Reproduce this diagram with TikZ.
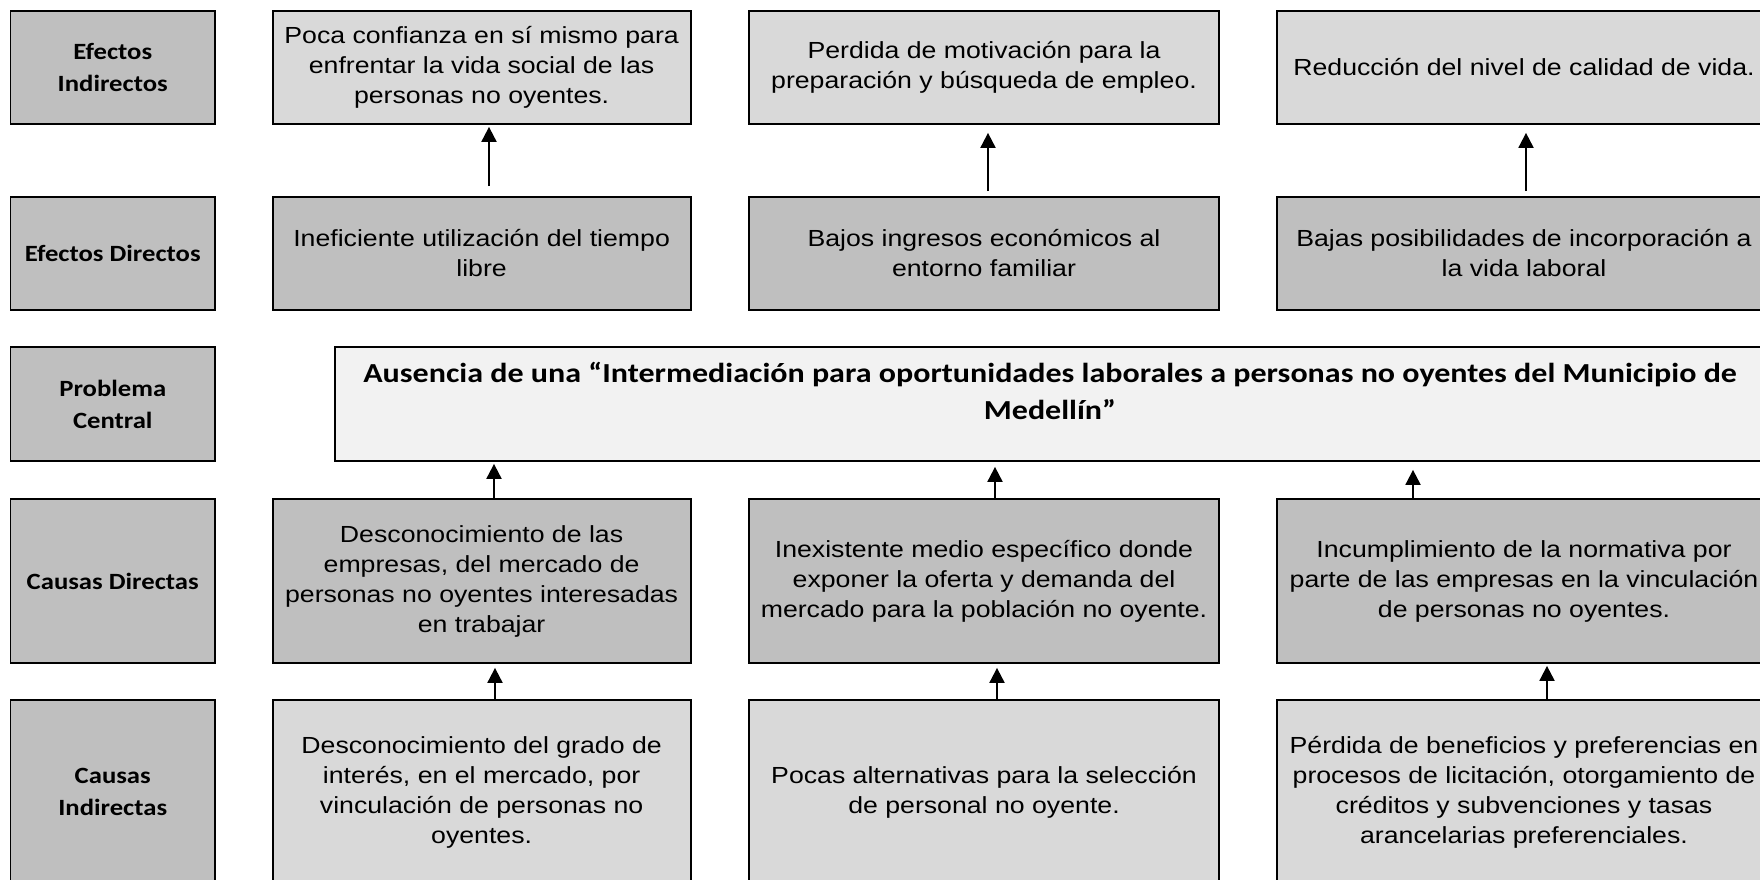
\documentclass[tikz,border=0pt]{standalone}
\usepackage{fontspec}
\setmainfont{Liberation Sans}[FakeStretch=1.145]
\newfontfamily\calfont{Carlito}[FakeStretch=1.145]
\newfontfamily\calwide{Carlito}[FakeStretch=1.165]
\usetikzlibrary{arrows.meta}
\definecolor{lblgray}{HTML}{BFBFBF}
\definecolor{lightbox}{HTML}{D9D9D9}
\definecolor{darkbox}{HTML}{BFBFBF}
\definecolor{paleg}{HTML}{F2F2F2}
\begin{document}
\begin{tikzpicture}[x=1pt,y=-1pt,
  boxbase/.style={draw=black, line width=1.8pt, inner sep=0pt, align=center, text=black},
  lbl/.style={boxbase, fill=lblgray, minimum width=204.5pt, font=\calfont\bfseries\fontsize{23.3}{32}\selectfont},
  lightcell/.style={boxbase, fill=lightbox, font=\fontsize{23.3}{30}\selectfont},
  darkcell/.style={boxbase, fill=darkbox, font=\fontsize{23.3}{30}\selectfont},
  colA/.style={minimum width=418pt},
  colB/.style={minimum width=470pt},
  colC/.style={minimum width=494pt},
  arr/.style={line width=2pt, draw=black, -{Triangle[width=15pt,length=15pt]}}
]
\useasboundingbox (0,0) rectangle (1760,880);
\clip (0,0) rectangle (1760,880);
\fill[white] (0,0) rectangle (1760,880);

% row labels
\node[lbl, minimum height=113pt] (l1) at (112.75,67.5) {Efectos\\Indirectos};
\node[lbl, minimum height=113pt] (l2) at (112.75,253.5) {Efectos Directos};
\node[lbl, minimum height=114pt] (l3) at (112.75,404) {Problema\\Central};
\node[lbl, minimum height=164pt] (l4) at (112.75,581) {Causas Directas};
\node[lbl, minimum height=184pt] (l5) at (112.75,792) {Causas\\Indirectas};

% row 1: efectos indirectos
\node[lightcell, colA, minimum height=113pt] (r1c1) at (481.6,67.5) {Poca confianza en sí mismo para\\enfrentar la vida social de las\\personas no oyentes.};
\node[lightcell, colB, minimum height=113pt] (r1c2) at (984,67.5) {Perdida de motivación para la\\preparación y búsqueda de empleo.};
\node[lightcell, colC, minimum height=113pt] (r1c3) at (1524,67.5) {Reducción del nivel de calidad de vida.};

% row 2: efectos directos
\node[darkcell, colA, minimum height=113pt] (r2c1) at (481.6,253.5) {Ineficiente utilización del tiempo\\libre};
\node[darkcell, colB, minimum height=113pt] (r2c2) at (984,253.5) {Bajos ingresos económicos al\\entorno familiar};
\node[darkcell, colC, minimum height=113pt] (r2c3) at (1524,253.5) {Bajas posibilidades de incorporación a\\la vida laboral};

% row 3: problema central
\node[boxbase, fill=paleg, minimum width=1430pt, minimum height=114pt] (prob) at (1050,404) {};
\node[align=center, inner sep=0pt, font=\calwide\bfseries\fontsize{27.5}{37}\selectfont] (probtxt) at (1050,390.5) {Ausencia de una “Intermediación para oportunidades laborales a personas no oyentes del Municipio de\\Medellín”};

% row 4: causas directas
\node[darkcell, colA, minimum height=164pt] (r4c1) at (481.6,581) {Desconocimiento de las\\empresas, del mercado de\\personas no oyentes interesadas\\en trabajar};
\node[darkcell, colB, minimum height=164pt] (r4c2) at (984,581) {Inexistente medio específico donde\\exponer la oferta y demanda del\\mercado para la población no oyente.};
\node[darkcell, colC, minimum height=164pt] (r4c3) at (1524,581) {Incumplimiento de la normativa por\\parte de las empresas en la vinculación\\de personas no oyentes.};

% row 5: causas indirectas
\node[lightcell, colA, minimum height=184pt] (r5c1) at (481.6,792) {Desconocimiento del grado de\\interés, en el mercado, por\\vinculación de personas no\\oyentes.};
\node[lightcell, colB, minimum height=184pt] (r5c2) at (984,792) {Pocas alternativas para la selección\\de personal no oyente.};
\node[lightcell, colC, minimum height=184pt] (r5c3) at (1524,792) {Pérdida de beneficios y preferencias en\\procesos de licitación, otorgamiento de\\créditos y subvenciones y tasas\\arancelarias preferenciales.};

% arrow columns
\coordinate (a1) at (489,0);
\coordinate (a2) at (988,0);
\coordinate (a3) at (1526,0);
\coordinate (b1) at (494,0);
\coordinate (b2) at (995,0);
\coordinate (b3) at (1413,0);
\coordinate (c1) at (495,0);
\coordinate (c2) at (997,0);
\coordinate (c3) at (1547,0);

% efectos directos -> efectos indirectos
\draw[arr, shorten <=10pt, shorten >=2pt] (r2c1.north -| a1) -- (r1c1.south -| a1);
\draw[arr, shorten <=5pt, shorten >=8pt] (r2c2.north -| a2) -- (r1c2.south -| a2);
\draw[arr, shorten <=5pt, shorten >=8pt] (r2c3.north -| a3) -- (r1c3.south -| a3);

% causas directas -> problema central
\draw[arr, shorten >=2pt] (r4c1.north -| b1) -- (prob.south -| b1);
\draw[arr, shorten >=5pt] (r4c2.north -| b2) -- (prob.south -| b2);
\draw[arr, shorten >=8pt] (r4c3.north -| b3) -- (prob.south -| b3);

% causas indirectas -> causas directas
\draw[arr, shorten >=4pt] (r5c1.north -| c1) -- (r4c1.south -| c1);
\draw[arr, shorten >=4pt] (r5c2.north -| c2) -- (r4c2.south -| c2);
\draw[arr, shorten >=2pt] (r5c3.north -| c3) -- (r4c3.south -| c3);
\end{tikzpicture}
\end{document}
